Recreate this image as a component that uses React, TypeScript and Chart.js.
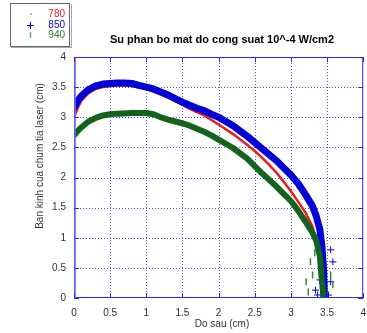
import React, { useEffect, useRef } from "react";
import { Chart, registerables } from "chart.js";
Chart.register(...registerables);

const chartTitle = "Su phan bo mat do cong suat 10^-4 W/cm2";
const xTitle = "Do sau (cm)";
const yTitle = "Ban kinh cua chum tia laser (cm)";
const seriesNames = ["780", "850", "940"];

const xTickValues = [0, 0.5, 1, 1.5, 2, 2.5, 3, 3.5, 4];

// 780 (red)
const x780 = [0, 0.05, 0.1, 0.2, 0.3, 0.4, 0.6, 0.8, 1.0, 1.2, 1.4, 1.6, 1.8, 2.0, 2.2, 2.4, 2.5, 2.6, 2.7, 2.8, 2.9, 3.0, 3.1, 3.2, 3.3, 3.35, 3.4, 3.43, 3.44];
const y780 = [3.0, 3.15, 3.27, 3.4, 3.47, 3.5, 3.53, 3.52, 3.47, 3.38, 3.27, 3.14, 3.03, 2.88, 2.72, 2.54, 2.44, 2.33, 2.21, 2.08, 1.93, 1.77, 1.6, 1.42, 1.18, 0.95, 0.6, 0.2, 0];

// 850 (blue)
const x850 = [0, 0.05, 0.1, 0.2, 0.3, 0.4, 0.5, 0.6, 0.7, 0.8, 0.9, 1.0, 1.1, 1.2, 1.3, 1.4, 1.5, 1.6, 1.7, 1.8, 1.9, 2.0, 2.1, 2.2, 2.3, 2.4, 2.5, 2.6, 2.7, 2.8, 2.9, 3.0, 3.1, 3.2, 3.3, 3.35, 3.4, 3.43, 3.45, 3.46, 3.46];
const y850 = [3.16, 3.27, 3.35, 3.46, 3.52, 3.55, 3.56, 3.57, 3.57, 3.56, 3.53, 3.5, 3.47, 3.42, 3.37, 3.31, 3.25, 3.2, 3.15, 3.11, 3.05, 3.0, 2.93, 2.86, 2.77, 2.68, 2.58, 2.48, 2.38, 2.28, 2.16, 2.04, 1.9, 1.72, 1.52, 1.36, 1.14, 0.85, 0.5, 0.2, 0];

// 940 (green)
const x940 = [0, 0.05, 0.1, 0.2, 0.3, 0.4, 0.5, 0.6, 0.8, 1.0, 1.1, 1.2, 1.3, 1.4, 1.5, 1.6, 1.7, 1.8, 1.9, 2.0, 2.2, 2.4, 2.5, 2.6, 2.7, 2.8, 2.9, 3.0, 3.1, 3.2, 3.3, 3.35, 3.4, 3.42, 3.44, 3.45];
const y940 = [2.7, 2.77, 2.83, 2.93, 2.99, 3.03, 3.05, 3.06, 3.07, 3.07, 3.05, 3.0, 2.96, 2.93, 2.9, 2.86, 2.81, 2.76, 2.7, 2.63, 2.49, 2.31, 2.19, 2.07, 1.96, 1.85, 1.73, 1.61, 1.45, 1.27, 1.08, 0.95, 0.7, 0.4, 0.15, 0];

// scattered outlier marks near the bottom
const x850Out = [3.58, 3.34, 3.55, 3.55, 3.4, 3.37, 3.52];
const y850Out = [0.6, 0.13, 0.27, 0.8, 0.3, 0.05, 0.05];
const x940Out = [3.21, 3.3, 3.27, 3.33, 3.58, 3.55, 3.24];
const y940Out = [0.27, 0.38, 0.6, 0.75, 0.22, 0.38, 0.1];

const RED = "rgb(232,30,30)";
const BLUE = "rgb(0,0,215)";
const GREEN = "rgb(18,100,28)";
const AXIS_BLUE = "rgb(40,40,230)";
const FONT = "'Liberation Sans', Arial, sans-serif";

const pts = (xs: number[], ys: number[]) => xs.map((x, i) => ({ x, y: ys[i] }));

export default function App() {
  const ref = useRef<HTMLCanvasElement | null>(null);
  useEffect(() => {
    if (!ref.current) return;
    const grid = {
      id: "dotgrid",
      beforeDatasetsDraw(chart: any) {
        const ctx = chart.ctx;
        const a = chart.chartArea;
        const xs = chart.scales.x;
        const ys = chart.scales.y;
        ctx.save();
        ctx.strokeStyle = "rgba(50,50,235,0.85)";
        ctx.lineWidth = 1;
        ctx.setLineDash([1, 2]);
        ctx.beginPath();
        xTickValues.slice(1, -1).forEach((v) => {
          const p = Math.round(xs.getPixelForValue(v)) + 0.5;
          ctx.moveTo(p, a.top);
          ctx.lineTo(p, a.bottom);
        });
        xTickValues.slice(1, -1).forEach((v) => {
          const p = Math.round(ys.getPixelForValue(v)) + 0.5;
          ctx.moveTo(a.left, p);
          ctx.lineTo(a.right, p);
        });
        ctx.stroke();
        ctx.restore();
      },
    };
    const deco = {
      id: "deco",
      afterDraw(chart: any) {
        const ctx = chart.ctx;
        const a = chart.chartArea;
        const xs = chart.scales.x;
        const ys = chart.scales.y;
        ctx.save();
        // frame
        ctx.strokeStyle = AXIS_BLUE;
        ctx.lineWidth = 1;
        ctx.strokeRect(a.left + 0.5, a.top + 0.5, a.right - a.left - 1, a.bottom - a.top - 1);
        ctx.strokeStyle = "rgba(110,110,240,0.8)";
        ctx.lineWidth = 2;
        ctx.beginPath();
        ctx.moveTo(a.left + 1, a.top);
        ctx.lineTo(a.left + 1, a.bottom);
        ctx.stroke();
        // inner ticks
        ctx.strokeStyle = AXIS_BLUE;
        ctx.lineWidth = 1;
        ctx.beginPath();
        xTickValues.forEach((v) => {
          const p = Math.round(xs.getPixelForValue(v)) + 0.5;
          ctx.moveTo(p, a.bottom);
          ctx.lineTo(p, a.bottom - 5);
          ctx.moveTo(p, a.top);
          ctx.lineTo(p, a.top + 5);
        });
        xTickValues.forEach((v) => {
          const p = Math.round(ys.getPixelForValue(v)) + 0.5;
          ctx.moveTo(a.left, p);
          ctx.lineTo(a.left + 5, p);
          ctx.moveTo(a.right, p);
          ctx.lineTo(a.right - 5, p);
        });
        ctx.stroke();
        // titles
        ctx.fillStyle = "#000";
        ctx.font = `bold 11px ${FONT}`;
        ctx.textAlign = "center";
        ctx.textBaseline = "middle";
        ctx.fillText(chartTitle, 222, 40);
        ctx.fillStyle = "#333";
        ctx.font = `10px ${FONT}`;
        ctx.fillText(xTitle, 222, 324);
        ctx.save();
        ctx.translate(40, 156);
        ctx.rotate(-Math.PI / 2);
        ctx.fillText(yTitle, 0, 0);
        ctx.restore();
        // legend box
        ctx.fillStyle = "#fff";
        ctx.fillRect(10, 3, 60, 44);
        ctx.strokeStyle = "#666";
        ctx.lineWidth = 1;
        ctx.strokeRect(10.5, 3.5, 59, 43);
        ctx.strokeStyle = "#aaa";
        ctx.beginPath();
        ctx.moveTo(71.5, 4);
        ctx.lineTo(71.5, 48);
        ctx.moveTo(11, 47.5);
        ctx.lineTo(72, 47.5);
        ctx.stroke();
        const rows = [14, 25, 35];
        const colors = [RED, BLUE, "rgb(60,120,50)"];
        ctx.textAlign = "right";
        ctx.font = `10px ${FONT}`;
        seriesNames.forEach((n, i) => {
          ctx.fillStyle = colors[i];
          ctx.fillText(n, 65, rows[i] + 0.5);
        });
        // markers
        ctx.fillStyle = "rgba(240,140,140,0.9)";
        ctx.fillRect(30, 13, 2, 2);
        ctx.strokeStyle = BLUE;
        ctx.lineWidth = 1;
        ctx.beginPath();
        ctx.moveTo(27, 25.5);
        ctx.lineTo(34, 25.5);
        ctx.moveTo(30.5, 22);
        ctx.lineTo(30.5, 29);
        ctx.stroke();
        ctx.strokeStyle = "rgb(110,170,110)";
        ctx.lineWidth = 1.5;
        ctx.beginPath();
        ctx.moveTo(30.5, 32);
        ctx.lineTo(30.5, 38);
        ctx.stroke();
        ctx.restore();
      },
    };
    const chart = new Chart(ref.current, {
      type: "scatter",
      data: {
        datasets: [
          {
            label: seriesNames[0],
            data: pts(x780, y780),
            showLine: true,
            borderColor: RED,
            backgroundColor: RED,
            borderWidth: 2.5,
            pointRadius: 0,
            order: 3,
          },
          {
            label: seriesNames[1],
            data: pts(x850, y850),
            showLine: true,
            borderColor: BLUE,
            backgroundColor: BLUE,
            borderWidth: 7,
            borderJoinStyle: "round",
            borderCapStyle: "round",
            pointRadius: 0,
            order: 2,
          },
          {
            label: seriesNames[1] + " ",
            data: pts(x850Out, y850Out),
            pointStyle: "cross",
            pointRadius: 3.5,
            borderColor: BLUE,
            borderWidth: 1,
            order: 2,
          },
          {
            label: seriesNames[2],
            data: pts(x940, y940),
            showLine: true,
            borderColor: GREEN,
            backgroundColor: GREEN,
            borderWidth: 6,
            borderJoinStyle: "round",
            borderCapStyle: "round",
            pointRadius: 0,
            order: 1,
          },
          {
            label: seriesNames[2] + " ",
            data: pts(x940Out, y940Out),
            pointStyle: "line",
            rotation: 90,
            pointRadius: 3.5,
            borderColor: "rgb(60,130,60)",
            borderWidth: 1.5,
            order: 1,
          },
        ],
      },
      options: {
        animation: false,
        responsive: false,
        maintainAspectRatio: false,
        layout: { padding: { top: 57, right: 10, left: 0, bottom: 0 } },
        plugins: { legend: { display: false }, tooltip: { enabled: false }, title: { display: false } },
        scales: {
          x: {
            type: "linear",
            min: 0,
            max: 4,
            afterFit: (s: any) => {
              s.height = 35;
            },
            afterBuildTicks: (s: any) => {
              s.ticks = xTickValues.map((v) => ({ value: v }));
            },
            ticks: {
              padding: 9,
              color: "#333",
              font: { family: FONT, size: 10 },
              maxRotation: 0,
              autoSkip: false,
              callback: (v: any) => String(v),
            },
            grid: { display: false, drawTicks: false },
            border: { display: false },
          },
          y: {
            type: "linear",
            min: 0,
            max: 4,
            afterFit: (s: any) => {
              s.width = 74;
            },
            afterBuildTicks: (s: any) => {
              s.ticks = xTickValues.map((v) => ({ value: v }));
            },
            ticks: {
              padding: 8,
              color: "#333",
              font: { family: FONT, size: 10 },
              autoSkip: false,
              callback: (v: any) => String(v),
            },
            grid: { display: false, drawTicks: false },
            border: { display: false },
          },
        },
      },
      plugins: [grid, deco],
    } as any);
    return () => chart.destroy();
  }, []);
  return (
    <div style={{ position: "fixed", left: 0, top: 0, width: 367, height: 333, overflow: "hidden", background: "#fff" }}>
      <canvas ref={ref} width={375} height={333} style={{ display: "block", width: 375, height: 333 }} />
    </div>
  );
}
